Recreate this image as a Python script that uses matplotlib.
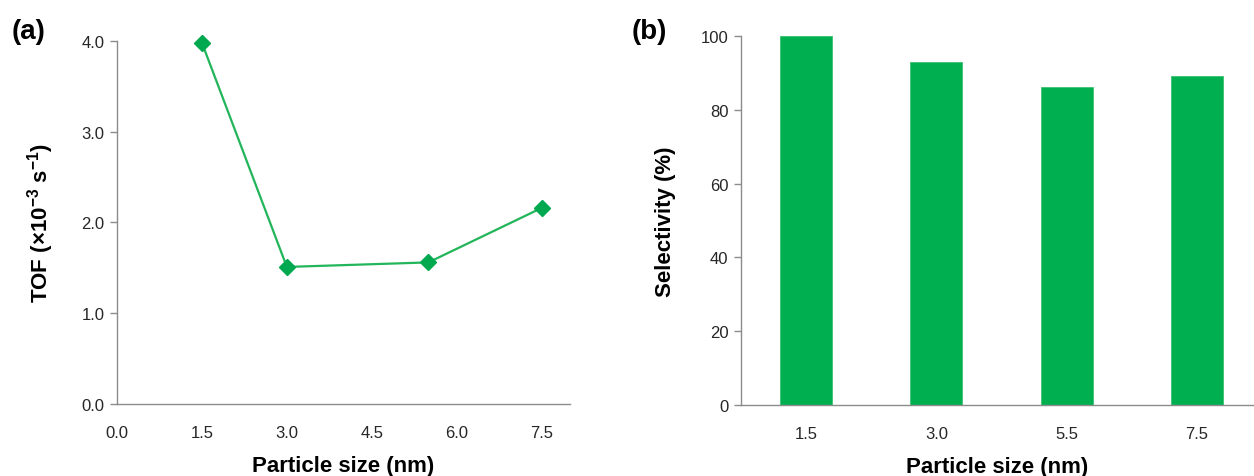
import matplotlib
matplotlib.use('Agg')
import matplotlib.pyplot as plt

# TOF vs. particle size
size_nm = [1.5, 3.0, 5.5, 7.5]
tof = [3.98, 1.51, 1.56, 2.16]

# selectivity vs. particle size
size_labels = ['1.5', '3.0', '5.5', '7.5']
selectivity = [100.0, 92.9, 86.2, 89.1]

plt.rcParams['font.family'] = ['Liberation Sans', 'DejaVu Sans']
plt.rcParams['mathtext.fontset'] = 'custom'
plt.rcParams['mathtext.rm'] = 'Liberation Sans'
plt.rcParams['mathtext.bf'] = 'Liberation Sans:bold'
plt.rcParams['mathtext.default'] = 'bf'

AXIS_GREY = '#8c8c8c'
TICK_TXT = '#262626'

fig = plt.figure(figsize=(12.54, 4.77), dpi=100)
ax1 = fig.add_axes([0.0933, 0.151, 0.3612, 0.761])
ax2 = fig.add_axes([0.591, 0.149, 0.409, 0.773])


def style_axes(ax):
    for side in ('top', 'right'):
        ax.spines[side].set_visible(False)
    for side in ('left', 'bottom'):
        ax.spines[side].set_color(AXIS_GREY)
        ax.spines[side].set_linewidth(1.0)
    ax.tick_params(axis='y', direction='out', length=5, width=1.0,
                   color=AXIS_GREY, labelsize=12, labelcolor=TICK_TXT, pad=4)
    ax.tick_params(axis='x', length=0, labelsize=12, labelcolor=TICK_TXT, pad=15)


# (a) line with diamonds
ax1.plot(size_nm, tof, color='#22b55a', lw=1.6, marker='D', ms=8,
         mfc='#00a84f', mec='#00a84f', clip_on=False, zorder=3)
ax1.set_xlim(0, 8.0)
ax1.set_ylim(0, 4.0)
ax1.set_xticks([0, 1.5, 3.0, 4.5, 6.0, 7.5])
ax1.set_xticklabels(['0.0', '1.5', '3.0', '4.5', '6.0', '7.5'])
ax1.set_yticks([0, 1, 2, 3, 4])
ax1.set_yticklabels(['0.0', '1.0', '2.0', '3.0', '4.0'])
style_axes(ax1)
ax1.set_xlabel('Particle size (nm)', fontsize=16, fontweight='bold', labelpad=11)
ax1.set_ylabel(r'TOF (×10$^{-3}$ s$^{-1}$)', fontsize=16, fontweight='bold', labelpad=18)

# (b) bars
pos = range(len(selectivity))
ax2.bar(pos, selectivity, width=0.4, color='#00b050', edgecolor='#3cc270', lw=0.6, zorder=2)
ax2.set_xlim(-0.5, 3.44)
ax2.set_ylim(0, 100)
ax2.set_xticks(list(pos))
ax2.set_xticklabels(size_labels)
ax2.set_yticks([0, 20, 40, 60, 80, 100])
style_axes(ax2)
ax2.set_xlabel('Particle size (nm)', fontsize=16, fontweight='bold', labelpad=11)
ax2.set_ylabel('Selectivity (%)', fontsize=16, fontweight='bold', labelpad=18)

fig.text(0.009, 0.932, '(a)', fontsize=20, fontweight='bold', va='center')
fig.text(0.504, 0.932, '(b)', fontsize=20, fontweight='bold', va='center')

fig.savefig('out.png', dpi=100)
